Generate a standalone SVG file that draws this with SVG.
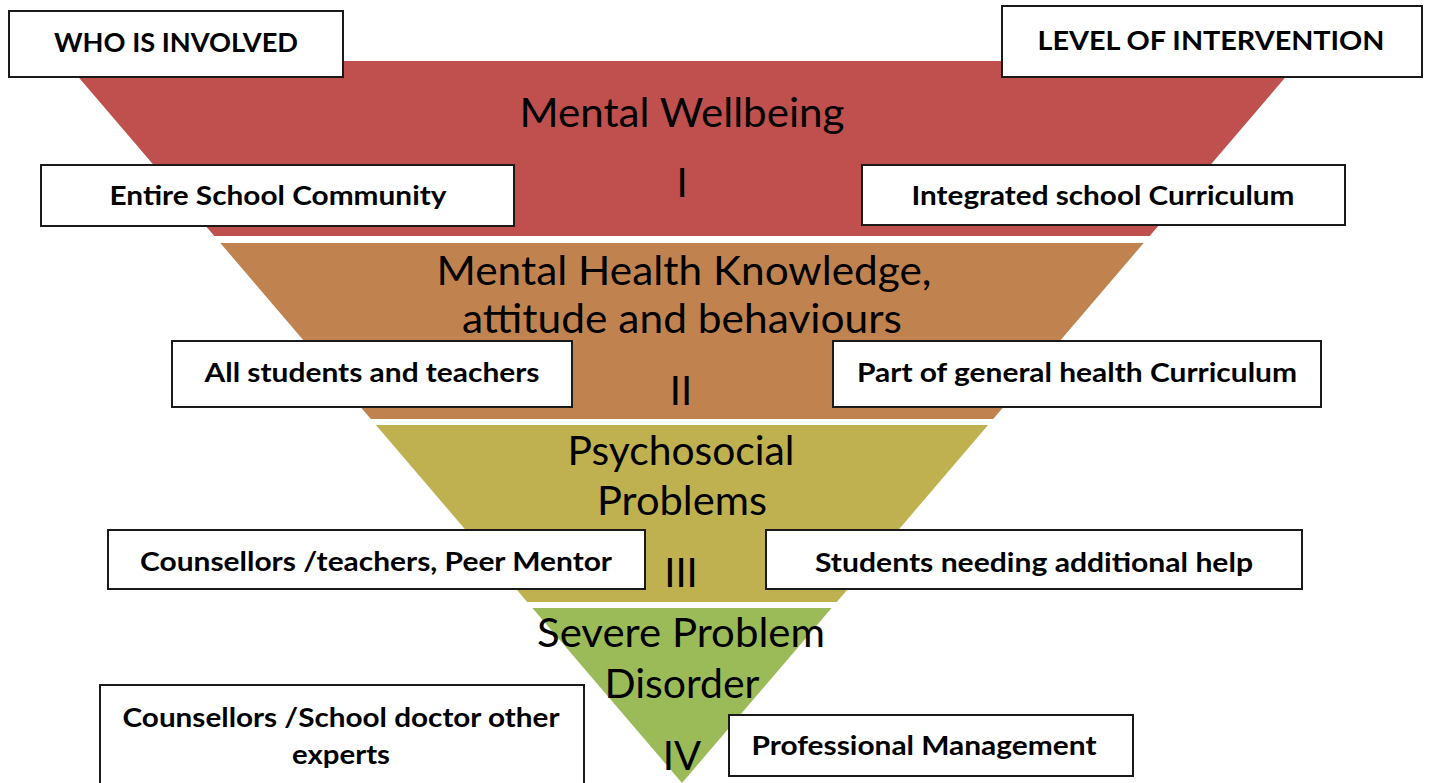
<svg xmlns="http://www.w3.org/2000/svg" width="1429" height="783" viewBox="0 0 1429 783">
<style>
.band-t{font-family:Lato,"Open Sans","Liberation Sans",sans-serif;font-size:40px;fill:#000;text-anchor:middle}
.box{fill:#fff;stroke:#1a1a1a;stroke-width:2}
.box-t{font-family:Lato,"Open Sans","Liberation Sans",sans-serif;font-size:27px;font-weight:bold;fill:#000;text-anchor:middle}
</style>
<rect width="1429" height="783" fill="#fff"/>
<g id="level-1">
<polygon points="64.7,61 1299.3,61 1149.7,236 214.3,236" fill="#C0504D"/>
<text class="band-t" x="682" y="127" textLength="325" lengthAdjust="spacingAndGlyphs">Mental Wellbeing</text>
<text class="band-t" x="682" y="197">I</text>
</g>
<g id="level-2">
<polygon points="220.3,243 1143.7,243 993.2,419 370.8,419" fill="#C0834F"/>
<text class="band-t" x="684" y="285" textLength="495" lengthAdjust="spacingAndGlyphs">Mental Health Knowledge,</text>
<text class="band-t" x="682" y="333" textLength="440" lengthAdjust="spacingAndGlyphs">attitude and behaviours</text>
<text class="band-t" x="681" y="405">II</text>
</g>
<g id="level-3">
<polygon points="375.9,425 988.1,425 836.8,602 527.2,602" fill="#BFB150"/>
<text class="band-t" x="681" y="465" textLength="227" lengthAdjust="spacingAndGlyphs">Psychosocial</text>
<text class="band-t" x="682" y="515" textLength="170" lengthAdjust="spacingAndGlyphs">Problems</text>
<text class="band-t" x="681" y="587">III</text>
</g>
<g id="level-4">
<polygon points="532.4,608 831.6,608 682,783" fill="#9BBB59"/>
<text class="band-t" x="681" y="647" textLength="288" lengthAdjust="spacingAndGlyphs">Severe Problem</text>
<text class="band-t" x="682" y="698" textLength="155" lengthAdjust="spacingAndGlyphs">Disorder</text>
<text class="band-t" x="682" y="770">IV</text>
</g>
<g id="who-involved">
<rect class="box" x="9" y="11" width="334" height="66"/>
<text class="box-t" x="176" y="52" textLength="244" lengthAdjust="spacingAndGlyphs">WHO IS INVOLVED</text>
</g>
<g id="level-of-intervention">
<rect class="box" x="1002" y="6" width="420" height="71"/>
<text class="box-t" x="1211" y="50" textLength="347" lengthAdjust="spacingAndGlyphs">LEVEL OF INTERVENTION</text>
</g>
<g id="entire-school">
<rect class="box" x="41" y="165" width="473" height="61"/>
<text class="box-t" x="278" y="205" textLength="337" lengthAdjust="spacingAndGlyphs">Entire School Community</text>
</g>
<g id="integrated-curriculum">
<rect class="box" x="862" y="165" width="483" height="60"/>
<text class="box-t" x="1103" y="205" textLength="383" lengthAdjust="spacingAndGlyphs">Integrated school Curriculum</text>
</g>
<g id="all-students">
<rect class="box" x="172" y="341" width="400" height="66"/>
<text class="box-t" x="372" y="382" textLength="335" lengthAdjust="spacingAndGlyphs">All students and teachers</text>
</g>
<g id="general-health">
<rect class="box" x="833" y="341" width="488" height="66"/>
<text class="box-t" x="1077" y="382" textLength="440" lengthAdjust="spacingAndGlyphs">Part of general health Curriculum</text>
</g>
<g id="counsellors-teachers">
<rect class="box" x="108" y="530" width="537" height="59"/>
<text class="box-t" x="376" y="571" textLength="472" lengthAdjust="spacingAndGlyphs">Counsellors /teachers, Peer Mentor</text>
</g>
<g id="students-help">
<rect class="box" x="766" y="530" width="536" height="59"/>
<text class="box-t" x="1034" y="572" textLength="438" lengthAdjust="spacingAndGlyphs">Students needing additional help</text>
</g>
<g id="counsellors-doctor">
<rect class="box" x="100" y="685" width="484" height="110"/>
<text class="box-t" x="341" y="727" textLength="437" lengthAdjust="spacingAndGlyphs">Counsellors /School doctor other</text>
<text class="box-t" x="341" y="764" textLength="98" lengthAdjust="spacingAndGlyphs">experts</text>
</g>
<g id="professional-management">
<rect class="box" x="729" y="715" width="404" height="61"/>
<text class="box-t" x="924" y="755" textLength="345" lengthAdjust="spacingAndGlyphs">Professional Management</text>
</g>
</svg>
